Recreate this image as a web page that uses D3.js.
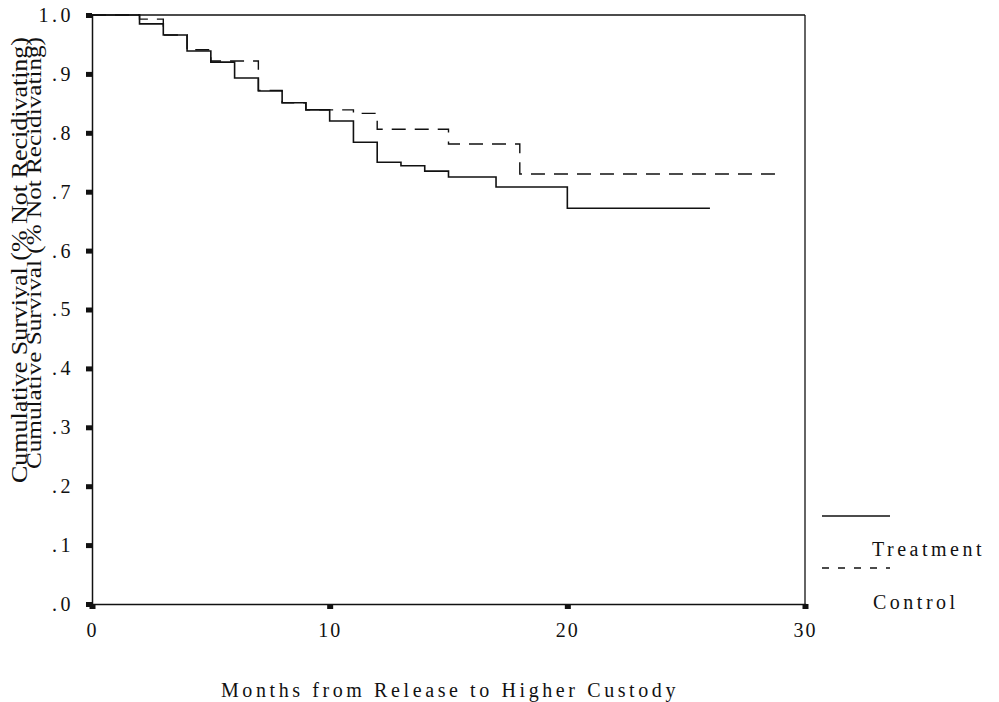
<!DOCTYPE html>
<html>
<head>
<meta charset="utf-8">
<script src="https://cdn.jsdelivr.net/npm/d3@7"></script>
<style>
  body { margin: 0; background: #fff; }
  svg { display: block; }
  text { font-family: "Liberation Serif", "DejaVu Serif", serif; fill: #111; }
</style>
</head>
<body>
<div id="chart"></div>
<script>
// step data: [month, survival]
var treatmentMonths = [0, 2, 3, 4, 5, 6, 7, 8, 9, 10, 11, 12, 13, 14, 15, 17, 20, 26];
var treatmentValues = [1.0, 0.985, 0.966, 0.939, 0.92, 0.893, 0.871, 0.851, 0.839, 0.82, 0.784, 0.75, 0.744, 0.735, 0.725, 0.708, 0.672, 0.672];
var controlMonths = [0, 2, 3, 4, 5, 7, 8, 9, 11, 12, 15, 18, 29];
var controlValues = [1.0, 0.993, 0.966, 0.941, 0.922, 0.872, 0.851, 0.839, 0.833, 0.806, 0.781, 0.73, 0.73];

var yTicks = [0, 0.1, 0.2, 0.3, 0.4, 0.5, 0.6, 0.7, 0.8, 0.9, 1.0];
var yTickLabels = [".0", ".1", ".2", ".3", ".4", ".5", ".6", ".7", ".8", ".9", "1.0"];
var xTicks = [0, 10, 20, 30];
var seriesNames = ["Treatment", "Control"];

var W = 999, H = 702;
var plotLeft = 92, plotRight = 805, plotTop = 15, plotBottom = 604;

var svg = d3.select('#chart').append('svg').attr('width', W).attr('height', H);

var x = d3.scaleLinear().domain([0, 30]).range([plotLeft, plotRight]);
var y = d3.scaleLinear().domain([0, 1]).range([plotBottom, plotTop]);

// frame top + right
svg.append('line')
    .attr('x1', plotLeft).attr('x2', plotRight)
    .attr('y1', y(1)).attr('y2', y(1))
    .attr('stroke', '#111').attr('stroke-width', 1.5);
svg.append('line')
    .attr('x1', plotRight).attr('x2', plotRight)
    .attr('y1', y(1)).attr('y2', y(0))
    .attr('stroke', '#111').attr('stroke-width', 1.3);

// y axis
var yAxis = svg.append('g')
    .attr('transform', `translate(${plotLeft},0)`)
    .call(d3.axisLeft(y)
        .tickValues(yTicks)
        .tickSize(6)
        .tickPadding(12)
        .tickFormat((d, i) => yTickLabels[i]));
yAxis.select('.domain').attr('stroke', '#111').attr('stroke-width', 1.5);
yAxis.selectAll('.tick line').attr('stroke', '#111').attr('stroke-width', 5);
yAxis.selectAll('.tick text')
    .style('font-size', '20px')
    .style('letter-spacing', '3.5px')
    .attr('fill', '#111');

// x axis
var xAxis = svg.append('g')
    .attr('transform', `translate(0,${plotBottom})`)
    .call(d3.axisBottom(x)
        .tickValues(xTicks)
        .tickSize(5)
        .tickPadding(14)
        .tickFormat(d3.format('d')));
xAxis.select('.domain').attr('stroke', '#111').attr('stroke-width', 1.5);
xAxis.selectAll('.tick line').attr('stroke', '#111').attr('stroke-width', 6);
xAxis.selectAll('.tick text')
    .style('font-size', '20px')
    .style('letter-spacing', '2px')
    .attr('fill', '#111');

// curves
var line = d3.line()
    .x(d => x(d[0]))
    .y(d => y(d[1]))
    .curve(d3.curveStepAfter);

var treatment = treatmentMonths.map((m, i) => [m, treatmentValues[i]]);
var control = controlMonths.map((m, i) => [m, controlValues[i]]);

svg.append('path')
    .datum(control)
    .attr('d', line)
    .attr('fill', 'none')
    .attr('stroke', '#111')
    .attr('stroke-width', 1.4)
    .attr('stroke-dasharray', '14,9');

svg.append('path')
    .datum(treatment)
    .attr('d', line)
    .attr('fill', 'none')
    .attr('stroke', '#111')
    .attr('stroke-width', 1.6);

// y label, printed twice (as in the source)
svg.append('text')
    .attr('transform', 'translate(27,260) rotate(-90)')
    .attr('text-anchor', 'middle')
    .attr('textLength', 446)
    .attr('lengthAdjust', 'spacingAndGlyphs')
    .style('font-size', '23px')
    .text('Cumulative Survival (% Not Recidivating)');
svg.append('text')
    .attr('transform', 'translate(41,253) rotate(-90)')
    .attr('text-anchor', 'middle')
    .attr('textLength', 432)
    .attr('lengthAdjust', 'spacingAndGlyphs')
    .style('font-size', '22px')
    .text('Cumulative Survival (% Not Recidivating)');

// x label
svg.append('text')
    .attr('x', 450)
    .attr('y', 697)
    .attr('text-anchor', 'middle')
    .style('font-size', '20px')
    .style('letter-spacing', '3.6px')
    .text('Months from Release to Higher Custody');

// legend
var legendY = [516, 568];
var legendTextY = [556, 609];
var legendX = [872, 873];
seriesNames.forEach(function (name, i) {
    svg.append('line')
        .attr('x1', 822).attr('x2', 890)
        .attr('y1', legendY[i]).attr('y2', legendY[i])
        .attr('stroke', '#111')
        .attr('stroke-width', 1.5)
        .attr('stroke-dasharray', i === 1 ? '7,9' : null);
    svg.append('text')
        .attr('x', legendX[i])
        .attr('y', legendTextY[i])
        .style('font-size', '20px')
        .style('letter-spacing', '3.5px')
        .text(name);
});
</script>
</body>
</html>
